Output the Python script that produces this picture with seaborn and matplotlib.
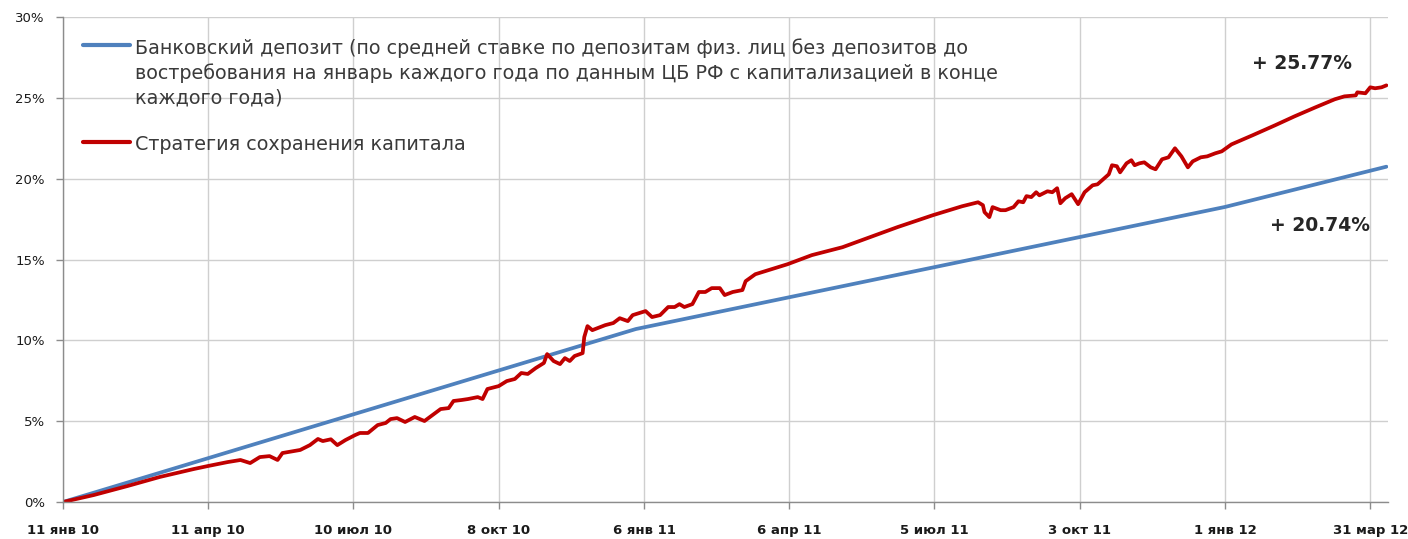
import pandas as pd
import numpy as np
import matplotlib.pyplot as plt
from matplotlib.ticker import PercentFormatter
import seaborn as sns

# --- data ---
start = "2010-01-11"
end_day = 821

blue_label = ("Банковский депозит (по средней ставке по депозитам физ. лиц без депозитов до\n"
              "востребования на январь каждого года по данным ЦБ РФ с капитализацией в конце\n"
              "каждого года)")
red_label = "Стратегия сохранения капитала"

# days since start, value in %
blue_days = [0, 355, 720, 820]
blue_vals = [0.0, 10.70, 18.25, 20.74]

red_days = [0, 19, 40, 60, 81, 90, 102, 110, 116, 122, 128, 133, 136, 143, 147,
            153, 158, 161, 166, 170, 175, 181, 184, 189, 195, 200, 203, 207, 212,
            218, 224, 229, 234, 239, 242, 247, 251, 257, 260, 263, 270, 275, 280,
            284, 288, 293, 298, 300, 304, 308, 311, 314, 317, 322, 323, 325, 328,
            333, 336, 341, 345, 350, 353, 361, 365, 370, 375, 379, 382, 385, 390,
            392, 394, 398, 402, 407, 410, 415, 421, 423, 429, 437, 449, 464, 483,
            500, 517, 539, 557, 567, 570, 571, 574, 576, 581, 584, 589, 592, 595,
            597, 600, 603, 605, 610, 613, 616, 618, 621, 625, 629, 633, 638, 641,
            646, 648, 650, 653, 655, 659, 662, 664, 667, 670, 674, 677, 681, 685,
            689, 693, 697, 700, 705, 709, 714, 718, 724, 737, 751, 763, 776, 788,
            794, 801, 802, 807, 810, 813, 817, 820]
red_vals = [0.00, 0.43, 0.99, 1.55, 2.04, 2.23, 2.47, 2.60, 2.41, 2.78, 2.84, 2.60, 3.03, 3.15, 3.22,
            3.52, 3.90, 3.77, 3.88, 3.52, 3.83, 4.14, 4.27, 4.27, 4.76, 4.89, 5.13, 5.19, 4.95,
            5.26, 5.01, 5.38, 5.75, 5.81, 6.25, 6.31, 6.37, 6.49, 6.37, 6.99, 7.17, 7.48, 7.61,
            7.98, 7.92, 8.29, 8.60, 9.15, 8.72, 8.53, 8.90, 8.72, 9.03, 9.21, 10.20, 10.88, 10.63,
            10.82, 10.94, 11.07, 11.37, 11.19, 11.56, 11.81, 11.44, 11.56, 12.06, 12.06, 12.24, 12.06, 12.24,
            12.61, 12.99, 12.99, 13.23, 13.23, 12.80, 12.99, 13.11, 13.66, 14.09, 14.34, 14.71, 15.27, 15.76,
            16.38, 17.00, 17.74, 18.29, 18.54, 18.36, 17.93, 17.62, 18.24, 18.05, 18.05, 18.24, 18.60, 18.54,
            18.92, 18.86, 19.16, 18.97, 19.22, 19.16, 19.41, 18.48, 18.79, 19.04, 18.42, 19.16, 19.59, 19.65,
            20.09, 20.27, 20.83, 20.77, 20.39, 20.95, 21.14, 20.83, 20.95, 21.01, 20.70, 20.58, 21.20, 21.32,
            21.88, 21.38, 20.70, 21.07, 21.32, 21.38, 21.57, 21.69, 22.12, 22.68, 23.30, 23.85, 24.41, 24.91,
            25.09, 25.15, 25.34, 25.28, 25.65, 25.59, 25.65, 25.77]

tick_dates = ["2010-01-11", "2010-04-11", "2010-07-10", "2010-10-08", "2011-01-06",
              "2011-04-06", "2011-07-05", "2011-10-03", "2012-01-01", "2012-03-31"]
tick_labels = ["11 янв 10", "11 апр 10", "10 июл 10", "8 окт 10", "6 янв 11",
               "6 апр 11", "5 июл 11", "3 окт 11", "1 янв 12", "31 мар 12"]
y_ticks = [0, 5, 10, 15, 20, 25, 30]

BLUE = "#4F81BD"
RED = "#C00000"


def make_frame(days, vals):
    t0 = pd.Timestamp(start)
    return pd.DataFrame({"date": t0 + pd.to_timedelta(days, unit="D"), "val": vals})


def main():
    sns.set_theme(style="whitegrid")
    plt.rcParams['font.family'] = ['DejaVu Sans']

    blue = make_frame(blue_days, blue_vals)
    red = make_frame(red_days, red_vals)

    fig, ax = plt.subplots(figsize=(14.08, 5.39), dpi=100)
    fig.subplots_adjust(left=0.0447, right=0.9858, top=0.9685, bottom=0.0686)

    sns.lineplot(data=blue, x="date", y="val", color=BLUE, linewidth=2.7, label=blue_label, ax=ax)
    sns.lineplot(data=red, x="date", y="val", color=RED, linewidth=2.7, label=red_label, ax=ax)

    t0 = pd.Timestamp(start)
    ax.set_xlim(t0, t0 + pd.Timedelta(days=end_day))
    ax.set_ylim(0, 30)
    ax.set_yticks(y_ticks)
    ax.yaxis.set_major_formatter(PercentFormatter(decimals=0))
    ax.set_xticks(pd.to_datetime(tick_dates))
    ax.set_xticklabels(tick_labels, fontweight='bold', fontsize=9.5, color='#1a1a1a')
    ax.set_xlabel('')
    ax.set_ylabel('')

    ax.grid(True, color='#CFCFCF', linewidth=1)
    for s in ['top', 'right']:
        ax.spines[s].set_visible(False)
    for s in ['left', 'bottom']:
        ax.spines[s].set_color('#8C8C8C')
        ax.spines[s].set_linewidth(1)
    ax.tick_params(axis='x', bottom=True, length=5, width=1, color='#8C8C8C', pad=11)
    ax.tick_params(axis='y', left=True, length=5, width=1, color='#8C8C8C', pad=8,
                   labelsize=9.5, labelcolor='#1a1a1a')

    leg = ax.legend(loc='upper left', bbox_to_anchor=(0.015, 0.956), frameon=False,
                    fontsize=13.8, handlelength=2.45, handletextpad=0.25,
                    labelspacing=1.45, borderpad=0, borderaxespad=0)
    for txt in leg.get_texts():
        txt.set_color('#3a3a3a')
        txt.set_linespacing(1.35)
    for line in leg.get_lines():
        line.set_linewidth(3)
    # handle against the first line of a multi-line label
    for col in leg._legend_handle_box.get_children():
        for row in col.get_children():
            row.align = 'top'

    # итоговые значения
    ax.annotate(f"+ {red_vals[-1]:.2f}%", xy=(red['date'].iloc[-1], red_vals[-1]),
                xytext=(-61, 16), textcoords='offset points', ha='center', va='center',
                fontsize=13.5, fontweight='bold', color='#262626')
    ax.annotate(f"+ {blue_vals[-1]:.2f}%", xy=(blue['date'].iloc[-1], blue_vals[-1]),
                xytext=(-48, -42.5), textcoords='offset points', ha='center', va='center',
                fontsize=13.5, fontweight='bold', color='#262626')

    fig.savefig("out.png", dpi=100)


if __name__ == "__main__":
    main()
